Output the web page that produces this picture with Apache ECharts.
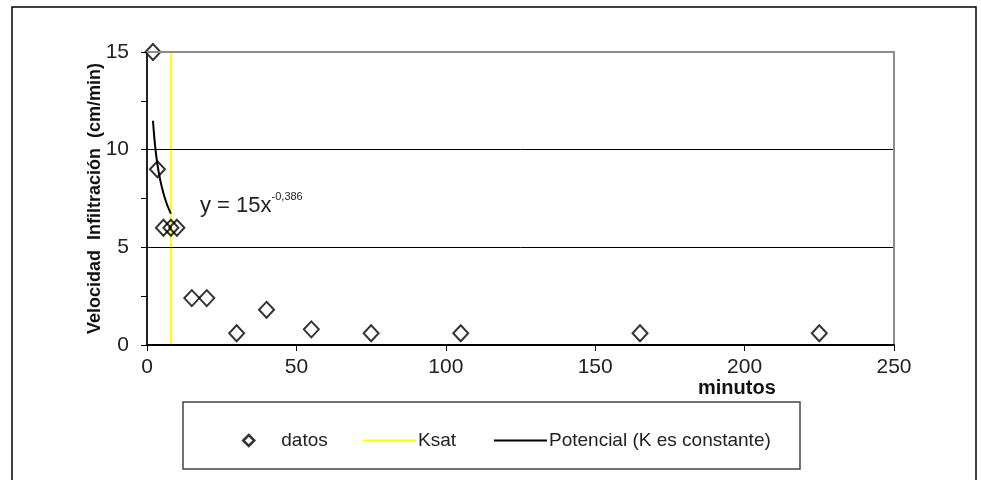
<!DOCTYPE html>
<html>
<head>
<meta charset="utf-8">
<script src="https://cdn.jsdelivr.net/npm/echarts@6/dist/echarts.min.js"></script>
<style>
  html, body { margin: 0; padding: 0; background: #fff; }
  #chart { width: 981px; height: 480px; }
</style>
</head>
<body>
<div id="chart"></div>
<script>
// Infiltration test readings: elapsed time (minutes) and infiltration rate (cm/min)
const tiempos = [2, 3.5, 5.5, 8, 10, 15, 20, 30, 40, 55, 75, 105, 165, 225];
const velocidades = [15, 9, 6, 6, 6, 2.4, 2.4, 0.6, 1.8, 0.8, 0.6, 0.6, 0.6, 0.6];

// Saturated conductivity marker (vertical line at x = 8)
const ksatX = [8, 8];
const ksatY = [0, 15];

// Power-law fit y = a * x^b, drawn over the fitted range
const ajusteA = 15;
const ajusteB = -0.386;
const ajusteX = [2, 2.5, 3, 3.5, 4, 4.5, 5, 5.5, 6, 6.5, 7, 7.5, 8];

const xTicks = [0, 50, 100, 150, 200, 250];
const yTicks = [0, 5, 10, 15];

const FONT = 'Liberation Sans, Arial, sans-serif';

const datos = tiempos.map((t, i) => [t, velocidades[i]]);
const ksat = ksatX.map((x, i) => [x, ksatY[i]]);
const potencial = ajusteX.map(x => [x, ajusteA * Math.pow(x, ajusteB)]);

const chart = echarts.init(document.getElementById('chart'), null, { renderer: 'canvas' });

const legendText = { fontSize: 19, color: '#222', fontFamily: FONT };

chart.setOption({
  animation: false,
  backgroundColor: '#fff',
  textStyle: { fontFamily: FONT },
  grid: { left: 147, top: 52, right: 87, bottom: 135, containLabel: false },
  xAxis: [
    {
      type: 'value',
      min: xTicks[0],
      max: xTicks[xTicks.length - 1],
      interval: 50,
      axisLine: { show: true, onZero: false, lineStyle: { color: '#000', width: 2 } },
      axisTick: { show: true, length: 6, lineStyle: { color: '#000', width: 1 } },
      axisLabel: { color: '#222', fontSize: 21, fontFamily: FONT, margin: 12 },
      splitLine: { show: false },
      z: 6
    },
    {
      type: 'value',
      position: 'top',
      min: xTicks[0],
      max: xTicks[xTicks.length - 1],
      axisLine: { show: true, onZero: false, lineStyle: { color: '#8c8c8c', width: 2 } },
      axisTick: { show: false },
      axisLabel: { show: false },
      splitLine: { show: false },
      z: 6
    }
  ],
  yAxis: [
    {
      type: 'value',
      min: yTicks[0],
      max: yTicks[yTicks.length - 1],
      interval: 5,
      name: 'Velocidad  Infiltración  (cm/min)',
      nameLocation: 'middle',
      nameGap: 43,
      nameMoveOverlap: false,
      nameTextStyle: { fontSize: 18, fontWeight: 'bold', color: '#111', fontFamily: FONT },
      axisLine: { show: true, onZero: false, lineStyle: { color: '#222', width: 2 } },
      axisTick: { show: true, length: 6, lineStyle: { color: '#000', width: 1 } },
      minorTick: { show: true, splitNumber: 2, length: 6, lineStyle: { color: '#000', width: 1 } },
      axisLabel: { color: '#222', fontSize: 21, fontFamily: FONT, margin: 18 },
      splitLine: { show: true, lineStyle: { color: '#000', width: 1 } },
      z: 6
    },
    {
      type: 'value',
      position: 'right',
      min: yTicks[0],
      max: yTicks[yTicks.length - 1],
      axisLine: { show: true, onZero: false, lineStyle: { color: '#8c8c8c', width: 2 } },
      axisTick: { show: false },
      axisLabel: { show: false },
      splitLine: { show: false },
      z: 6
    }
  ],
  legend: [
    {
      data: [{ name: 'datos', icon: 'diamond', itemStyle: { color: '#fff', borderColor: '#000', borderWidth: 2.5 } }],
      left: 237, top: 426,
      itemWidth: 11, itemHeight: 11,
      textStyle: Object.assign({ padding: [0, 0, 0, 22] }, legendText)
    },
    {
      data: [{ name: 'Ksat', icon: 'rect', itemStyle: { color: '#ffff00' } }],
      left: 358, top: 426,
      itemWidth: 53, itemHeight: 2,
      textStyle: Object.assign({ padding: [0, 0, 0, -3] }, legendText)
    },
    {
      data: [{ name: 'Potencial (K es constante)', icon: 'rect', itemStyle: { color: '#000' } }],
      left: 489, top: 426,
      itemWidth: 53, itemHeight: 2,
      textStyle: Object.assign({ padding: [0, 0, 0, -3] }, legendText)
    }
  ],
  title: {
    text: '{b|y = 15x}{s|-0,386}',
    left: 195, top: 186,
    textStyle: {
      fontWeight: 'normal',
      rich: {
        b: { fontSize: 22, fontWeight: 'normal', color: '#222', fontFamily: FONT, lineHeight: 26, verticalAlign: 'bottom' },
        s: { fontSize: 11, fontWeight: 'normal', color: '#222', fontFamily: FONT, lineHeight: 26, verticalAlign: 'top', padding: [0, 0, 12, 0] }
      }
    }
  },
  graphic: [
    {
      type: 'rect',
      shape: { x: 12, y: 7, width: 964, height: 480 },
      style: { fill: 'none', stroke: '#000', lineWidth: 1.5 },
      z: 100
    },
    {
      type: 'rect',
      shape: { x: 183, y: 402, width: 617, height: 67 },
      style: { fill: 'none', stroke: '#444', lineWidth: 1.5 },
      z: 100
    },
    {
      type: 'text',
      left: 698, top: 378,
      style: { text: 'minutos', fontSize: 20, fontWeight: 'bold', fill: '#111', fontFamily: FONT },
      z: 100
    }
  ],
  series: [
    {
      name: 'Ksat',
      type: 'line',
      data: ksat,
      showSymbol: false,
      symbol: 'none',
      lineStyle: { color: '#ffff00', width: 2 },
      itemStyle: { color: '#ffff00' },
      z: 3
    },
    {
      name: 'Potencial (K es constante)',
      type: 'line',
      data: potencial,
      smooth: true,
      showSymbol: false,
      symbol: 'none',
      lineStyle: { color: '#000', width: 2 },
      itemStyle: { color: '#000' },
      z: 4
    },
    {
      name: 'datos',
      type: 'scatter',
      data: datos,
      symbol: 'diamond',
      symbolSize: [15, 16],
      itemStyle: { color: 'rgba(255,255,255,0)', borderColor: '#000', borderWidth: 2 },
      z: 5
    }
  ]
});
</script>
</body>
</html>
